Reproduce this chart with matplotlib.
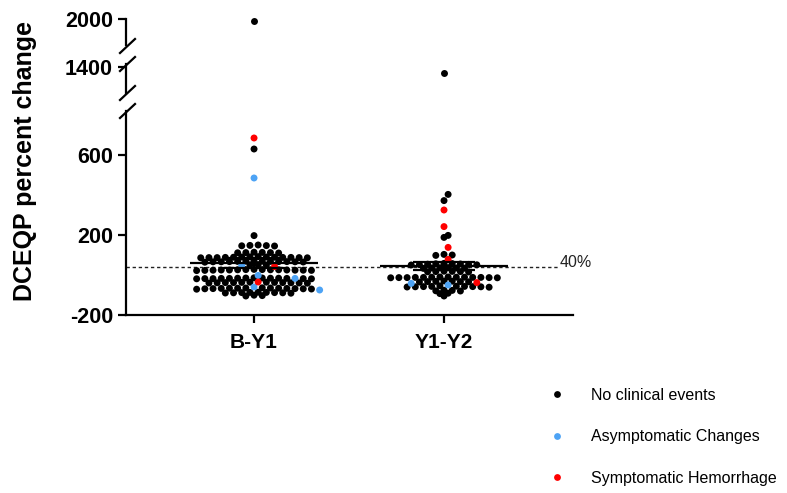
import matplotlib
matplotlib.use('Agg')
import matplotlib.pyplot as plt
import numpy as np
from matplotlib.lines import Line2D

plt.rcParams['font.family'] = ['Liberation Sans', 'DejaVu Sans']
plt.rcParams['font.weight'] = 'bold'
plt.rcParams['axes.unicode_minus'] = False

groups = ['B-Y1', 'Y1-Y2']
group_pos = [1, 2]

# DCEQP percent change, split by clinical event
by1_none = [1987, 630, 197,
            150, 148, 146, 147, 145,
            114, 112, 111, 113, 110, 112,
            90, 88, 87, 89, 86, 91, 88, 87, 89, 90, 86, 88, 92, 87,
            69, 67, 66, 68, 65, 67, 70, 66, 68, 67, 64, 69, 66,
            52, 50, 51,
            26, 25, 24, 27, 23, 25, 26, 24, 28, 22, 25, 27, 23, 26, 24,
            -15, -16, -17, -18, -16, -19, -14, -17, -18, -15, -16, -17, -18, -19,
            -36, -37, -38, -39, -40, -37, -38, -39, -36, -41, -38, -40,
            -64, -65, -66, -67, -68, -69, -70, -66, -67, -68, -65, -69, -71, -66,
            -86, -87, -88, -89, -90, -88, -87, -89, -91,
            -101, -103, -105]
by1_asym = [485, 48, -2, -17, -60, -75]
by1_symp = [685, 42, -35]

y12_none = [1370, 403, 372, 198, 188, 103, 100, 98,
            55, 50, 52, 58, 54, 56, 53, 51, 57,
            36, 34, 35, 33, 37, 35,
            17, 18, 16, 19, 17, 15,
            -10, -11, -12, -13, -14, -12, -11, -13, -10, -12, -14, -11, -13, -12,
            -30, -32, -33, -34, -31, -35, -33,
            -54, -56, -57, -58, -59, -60, -61, -58, -57, -59,
            -76, -77, -79, -80,
            -91, -93,
            -105]
y12_asym = [-42, -50]
y12_symp = [325, 242, 138, 78, -38]

group_mean = [62, 45]
group_sem = [25, 22]
threshold = 40

event_labels = ['No clinical events', 'Asymptomatic Changes', 'Symptomatic Hemorrhage']
event_colors = ['#000000', '#4da3f5', '#ff0000']

W, H = 787, 493
fig = plt.figure(figsize=(W / 100, H / 100), dpi=100)
XL = (0.326, 2.679)


def axes_px(top, bottom, ylim):
    ax = fig.add_axes([126 / W, 1 - bottom / H, (573 - 126) / W, (bottom - top) / H])
    ax.set_xlim(*XL)
    ax.set_ylim(*ylim)
    ax.patch.set_alpha(0)
    for s in ['top', 'right']:
        ax.spines[s].set_visible(False)
    for s in ['left', 'bottom']:
        ax.spines[s].set_linewidth(1.6)
    ax.tick_params(width=1.6, length=5.8, labelsize=15.5, pad=3.6)
    return ax


ax_top = axes_px(18.7, 45, (1868, 2000))
ax_mid = axes_px(64, 93, (1270, 1415))
ax_bot = axes_px(111, 315, (-200, 820))
for ax in (ax_top, ax_mid):
    ax.spines['bottom'].set_visible(False)
    ax.set_xticks([])
ax_top.set_yticks([2000])
ax_mid.set_yticks([1400])
ax_bot.set_yticks([-200, 200, 600])
ax_bot.set_xticks(group_pos, groups)
ax_bot.tick_params(axis='x', pad=7, labelsize=15)


def row_offsets(values, gap=6, span=25, step_px=8.2, far=40):
    # Prism-like scatter: close values share a row, neighbouring rows staggered
    order = np.argsort(values, kind='stable')
    rows, cur = [], []
    for i in order:
        if cur and (values[i] - values[cur[-1]] > gap or values[i] - values[cur[0]] > span):
            rows.append(cur)
            cur = []
        cur.append(i)
    rows.append(cur)
    unit = ax_bot.transData.transform((1, 0))[0] - ax_bot.transData.transform((0, 0))[0]
    xs = np.zeros(len(values))
    shift, prev_top = 0.0, None
    for r in rows:
        lowest = values[r[0]]
        if prev_top is None or lowest - prev_top > far:
            shift = 0.0
        else:
            shift = 0.5 - shift
        prev_top = max(values[i] for i in r)
        lattice = np.arange(-12, 13) + shift
        slots = sorted(lattice, key=lambda p: (round(abs(p), 3), -p))[:len(r)]
        for i, p in zip(sorted(r, key=lambda i: -values[i]), slots):
            xs[i] = p * step_px / unit
    return xs


data = [(by1_none, by1_asym, by1_symp), (y12_none, y12_asym, y12_symp)]
for pos, sets in zip(group_pos, data):
    vals = np.array([v for s in sets for v in s], dtype=float)
    cols = np.array([event_colors[k] for k, s in enumerate(sets) for _ in s])
    xs = pos + row_offsets(vals)
    for ax in (ax_top, ax_mid, ax_bot):
        lo, hi = ax.get_ylim()
        m = (vals >= lo) & (vals <= hi)
        ax.scatter(xs[m], vals[m], s=25, c=cols[m], linewidths=0, zorder=3, clip_on=False)

# mean +/- SEM
for pos, mu, se in zip(group_pos, group_mean, group_sem):
    ax_bot.hlines(mu, pos - 0.335, pos + 0.335, color='black', lw=1.6, zorder=4)
    ax_bot.hlines([mu - se, mu + se], pos - 0.165, pos + 0.165, color='black', lw=1.6, zorder=4)
    ax_bot.vlines(pos, mu - se, mu + se, color='black', lw=1.6, zorder=4)

# 40% reference line
ax_bot.plot([XL[0], 2.6], [threshold, threshold], color='#222222', lw=1.0,
            dashes=(2.4, 2.0), zorder=2)
ax_bot.annotate('40%', xy=(2.61, threshold), xytext=(0, 3), textcoords='offset points',
                fontsize=11.5, fontweight='normal', va='center', ha='left', color='#222222')

# axis break marks
for yb in [46, 64, 93, 111]:
    fig.add_artist(Line2D([(127.5 - 7.5) / W, (127.5 + 7.5) / W],
                          [1 - (yb + 7) / H, 1 - (yb - 7) / H],
                          transform=fig.transFigure, color='black', lw=1.6))

fig.text(25 / W, 1 - 161 / H, 'DCEQP percent change', rotation=90, ha='center',
         va='center', fontsize=18, fontweight='bold')

handles = [Line2D([], [], ls='', marker='o', ms=4.9, color=c, markeredgewidth=0)
           for c in event_colors]
fig.legend(handles, event_labels, loc='upper left', bbox_to_anchor=(549 / W, 1 - 388 / H),
           frameon=False, prop={'size': 11.5, 'weight': 'normal'}, handlelength=1.0,
           handletextpad=1.6, labelspacing=1.65, borderpad=0, borderaxespad=0)

fig.savefig('out.png', dpi=100)
